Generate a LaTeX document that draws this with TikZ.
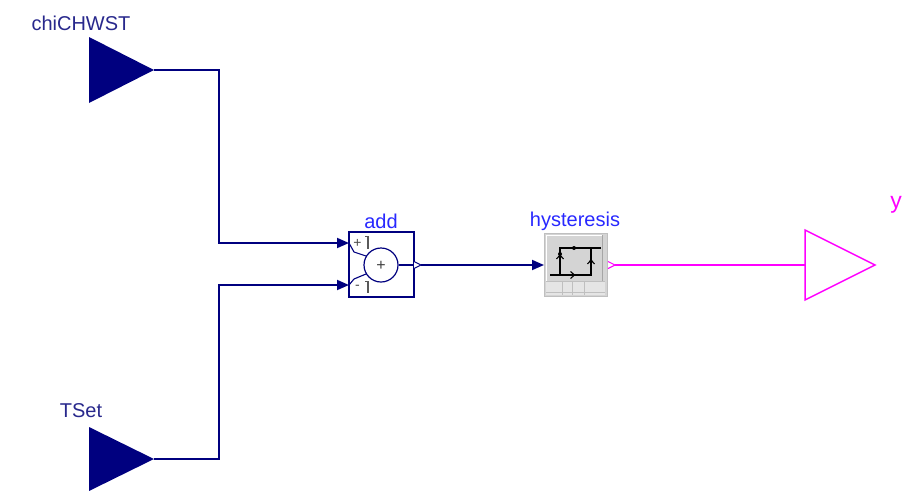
\documentclass[tikz,border=0pt]{standalone}
\usepackage{fontspec}
\setmainfont{Liberation Sans}
\usetikzlibrary{arrows.meta}
\definecolor{navy}{RGB}{0,0,127}
\definecolor{lblnavy}{RGB}{40,40,140}
\definecolor{lblblue}{RGB}{40,40,255}
\definecolor{mag}{RGB}{255,0,255}
\begin{document}
\begin{tikzpicture}[x=1pt,y=-1pt,
  lbl/.style={font=\fontsize{20}{22}\selectfont,inner sep=0pt},
  wire/.style={navy,line width=1.8pt},
  arr/.style={-{Triangle[length=12pt,width=10pt]}},
  blk/.style={draw=navy,line width=1.5pt,fill=white,minimum width=65pt,minimum height=65pt,inner sep=0pt}]
\useasboundingbox (0,0) rectangle (917,490);
% input triangles
\fill[navy] (89,37) -- (154,70) -- (89,103) -- cycle;
\coordinate (chiOut) at (154,70);
\node[lbl,text=lblnavy] (chiLbl) at (81,23) {chiCHWST};
\fill[navy] (89,427) -- (154,459) -- (89,491) -- cycle;
\coordinate (tsOut) at (154,459);
\node[lbl,text=lblnavy] (tsLbl) at (81,411) {TSet};
% add block
\node[blk] (add) at (381.5,264.5) {};
\node[lbl,text=lblblue] (addLbl) at (381,221) {add};
\coordinate (in1) at (349,243);
\coordinate (in2) at (349,285);
\node[draw=navy,circle,minimum size=34pt,inner sep=0pt,line width=1.2pt] (circ) at (381,265) {};
\node[font=\fontsize{16}{16}\selectfont,inner sep=0pt,text=black!75] (cplus) at (381,266) {+};
\node[font=\fontsize{14}{14}\selectfont,inner sep=0pt,text=black!70] (p1) at (357.5,243) {+};
\node[font=\fontsize{14}{14}\selectfont,inner sep=0pt,text=black!70] (m1) at (357.5,287) {-};
\draw[black!65,line width=1.6pt] (368,236) -- (368,249) (365,236.5) -- (368,236.5);
\draw[black!65,line width=1.6pt] (368,281) -- (368,293) (365,281.5) -- (368,281.5);
\draw[navy,line width=1.1pt] (in1) -- (354,252) -- (366,256);
\draw[navy,line width=1.1pt] (in2) -- (354,279) -- (366,274);
\draw[navy,line width=1.1pt] (circ.east) -- (414,265);
\draw[navy,line width=1.1pt,fill=white] (414,261.5) -- (421,265) -- (414,268.5);
\coordinate (addOut) at (421,265);
% hysteresis block
\node[draw=black!25,fill=black!17,minimum width=63pt,minimum height=63pt,inner sep=0pt,line width=1pt] (hys) at (575.5,264.5) {};
\fill[black!10] (546,281) rectangle (605,295);
\draw[black!25,line width=0.8pt] (546,281) -- (605,281) (562,281) -- (562,295) (572,281) -- (572,295) (584,281) -- (584,295) (546,292) -- (605,292);
\draw[white,line width=1pt] (546,235) -- (546,281) (546,235) -- (602,235);
\draw[black!35,line width=1pt] (602,235) -- (602,281);
\draw[black,line width=1.4pt] (550,275) -- (591,275) -- (591,248) (601,248) -- (560,248) -- (560,275);
\draw[black,line width=1.1pt] (570.5,271.5) -- (574.5,275) -- (570.5,278.5);
\draw[black,line width=1.1pt] (556.5,259) -- (560,255) -- (563.5,259);
\draw[black,line width=1.1pt] (587.5,264) -- (591,260) -- (594.5,264);
\fill[black] (574,248) circle (2pt);
\fill[black] (560,254) circle (2pt);
\fill[black] (591,261) circle (1.6pt);
\node[lbl,text=lblblue] (hysLbl) at (575,221) {hysteresis};
\coordinate (hysIn) at (544,265);
\draw[mag,line width=1.1pt,fill=white] (608,261.5) -- (615,265) -- (608,268.5);
% output
\draw[mag,line width=1.5pt] (805,230) -- (875,265) -- (805,300) -- cycle;
\coordinate (yIn) at (805,265);
\node[lbl,text=mag,font=\fontsize{23}{25}\selectfont] (yLbl) at (896,205) {y};
% wires
\draw[wire,arr] (chiOut) -- (219,70) -- (219,243) -- (in1);
\draw[wire,arr] (tsOut) -- (219,459) -- (219,285) -- (in2);
\draw[wire,arr] (addOut) -- (hysIn);
\draw[mag,line width=1.8pt] (615,265) -- (yIn);
\end{tikzpicture}
\end{document}
